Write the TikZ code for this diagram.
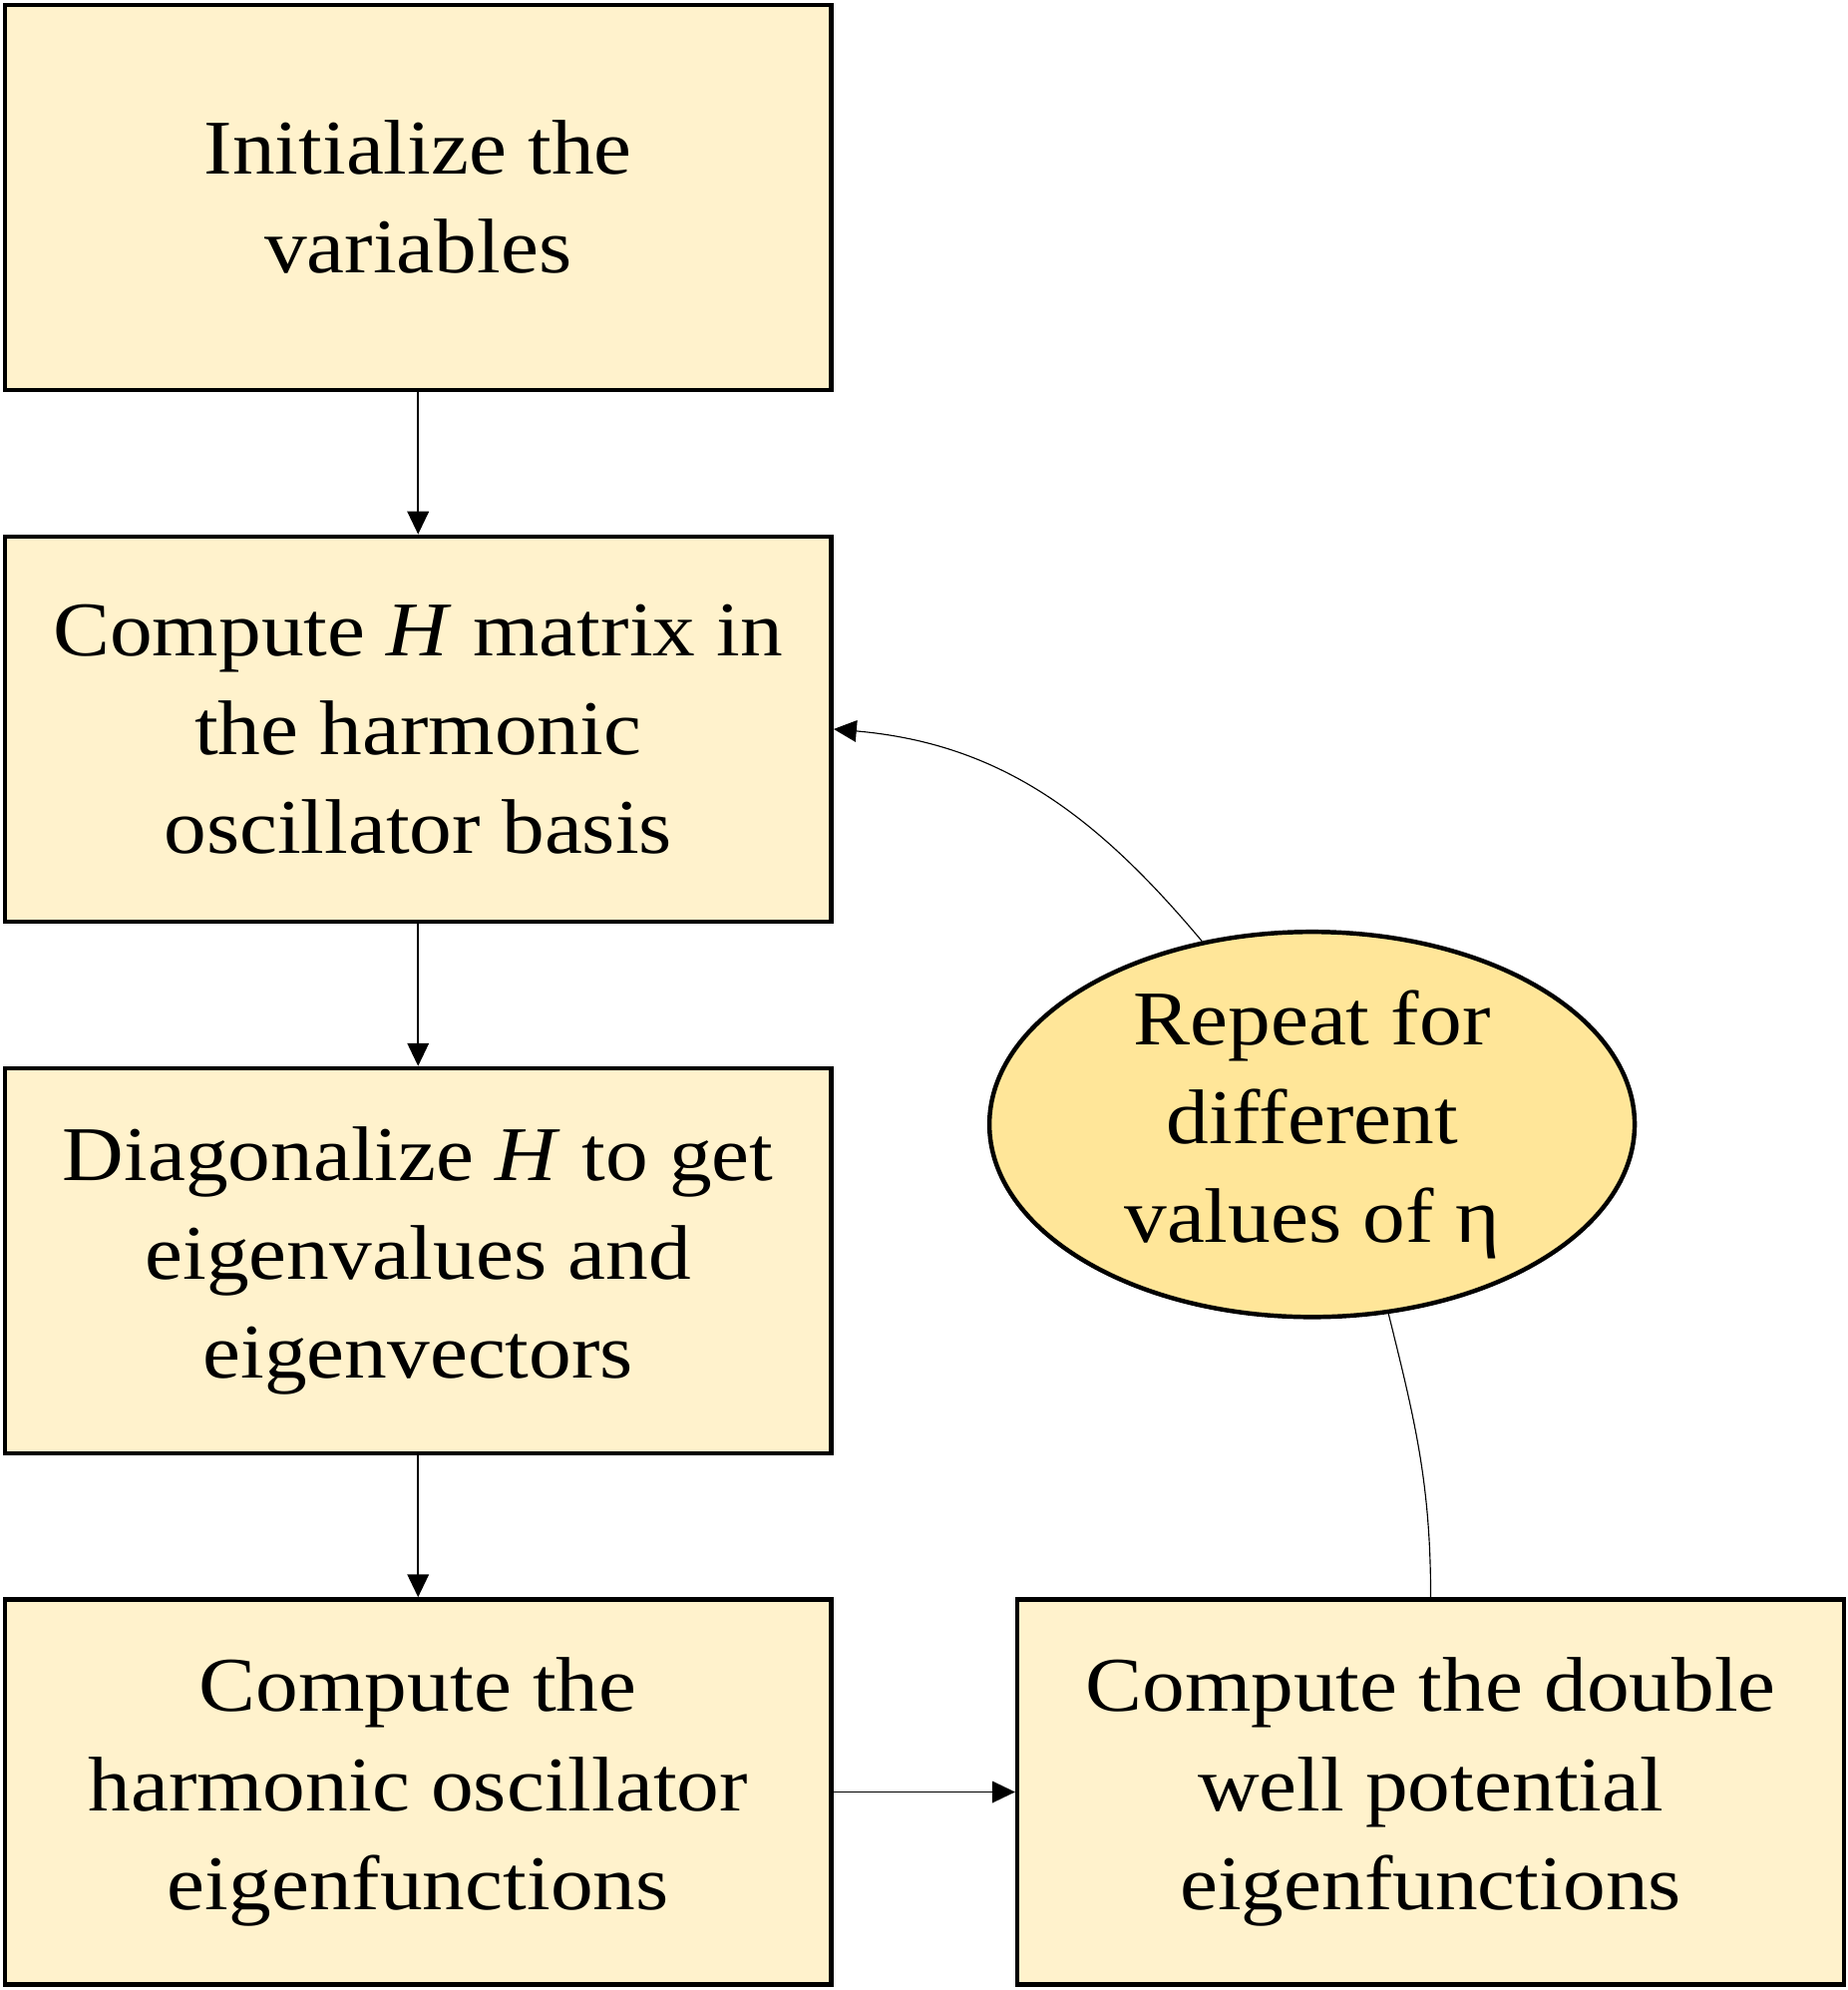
\documentclass[tikz,border=0pt]{standalone}
\usepackage{fontspec}
\setmainfont{Liberation Serif}[FakeStretch=1.1]
\usetikzlibrary{shapes.geometric,arrows.meta}
\definecolor{boxfill}{HTML}{FFF2CC}
\definecolor{ellfill}{HTML}{FFE699}
\begin{document}
\begin{tikzpicture}[x=1pt,y=1pt,
  txt/.style={font=\fontsize{61}{78}\selectfont, align=center},
  stepbox/.style={txt, draw=black, line width=3.5pt, fill=boxfill,
    minimum width=651.5pt, minimum height=303.5pt, inner sep=0pt},
  flow/.style={line width=1.2pt, -{Triangle[length=18pt,width=17pt]}},
  loopline/.style={line width=0.9pt}
]
\useasboundingbox (0,0) rectangle (1456,1568);
\node[stepbox] (init) at (329.5,1412.5) {Initialize the\\variables};
\node[stepbox] (hmat) at (329.5,993.5) {Compute \textit{H} matrix in\\the harmonic\\oscillator basis};
\node[stepbox] (diag) at (329.5,574.5) {Diagonalize \textit{H} to get\\eigenvalues and\\eigenvectors};
\node[stepbox] (hoef) at (329.5,156) {Compute the\\harmonic oscillator\\eigenfunctions};
\node[stepbox] (dwef) at (1127.5,156) {Compute the double\\well potential\\eigenfunctions};
\node[ellipse, draw=black, line width=3.5pt, fill=ellfill, minimum width=508.5pt,
  minimum height=303.5pt, inner sep=0pt] (rep) at (1034,682) {};
\node[txt] (rept) at (rep.center) {Repeat for\\different\\values of η};
\draw[flow] (init.south) -- (hmat.north);
\draw[flow] (hmat.south) -- (diag.north);
\draw[flow] (diag.south) -- (hoef.north);
\draw[flow] (hoef.east) -- (dwef.west);
\draw[loopline] (dwef.north) to[out=90, in=-76] (rep.-68);
\draw[loopline, -{Triangle[length=18pt,width=17pt]}] (rep.121) to[out=130, in=-5] (hmat.east);
\end{tikzpicture}
\end{document}
